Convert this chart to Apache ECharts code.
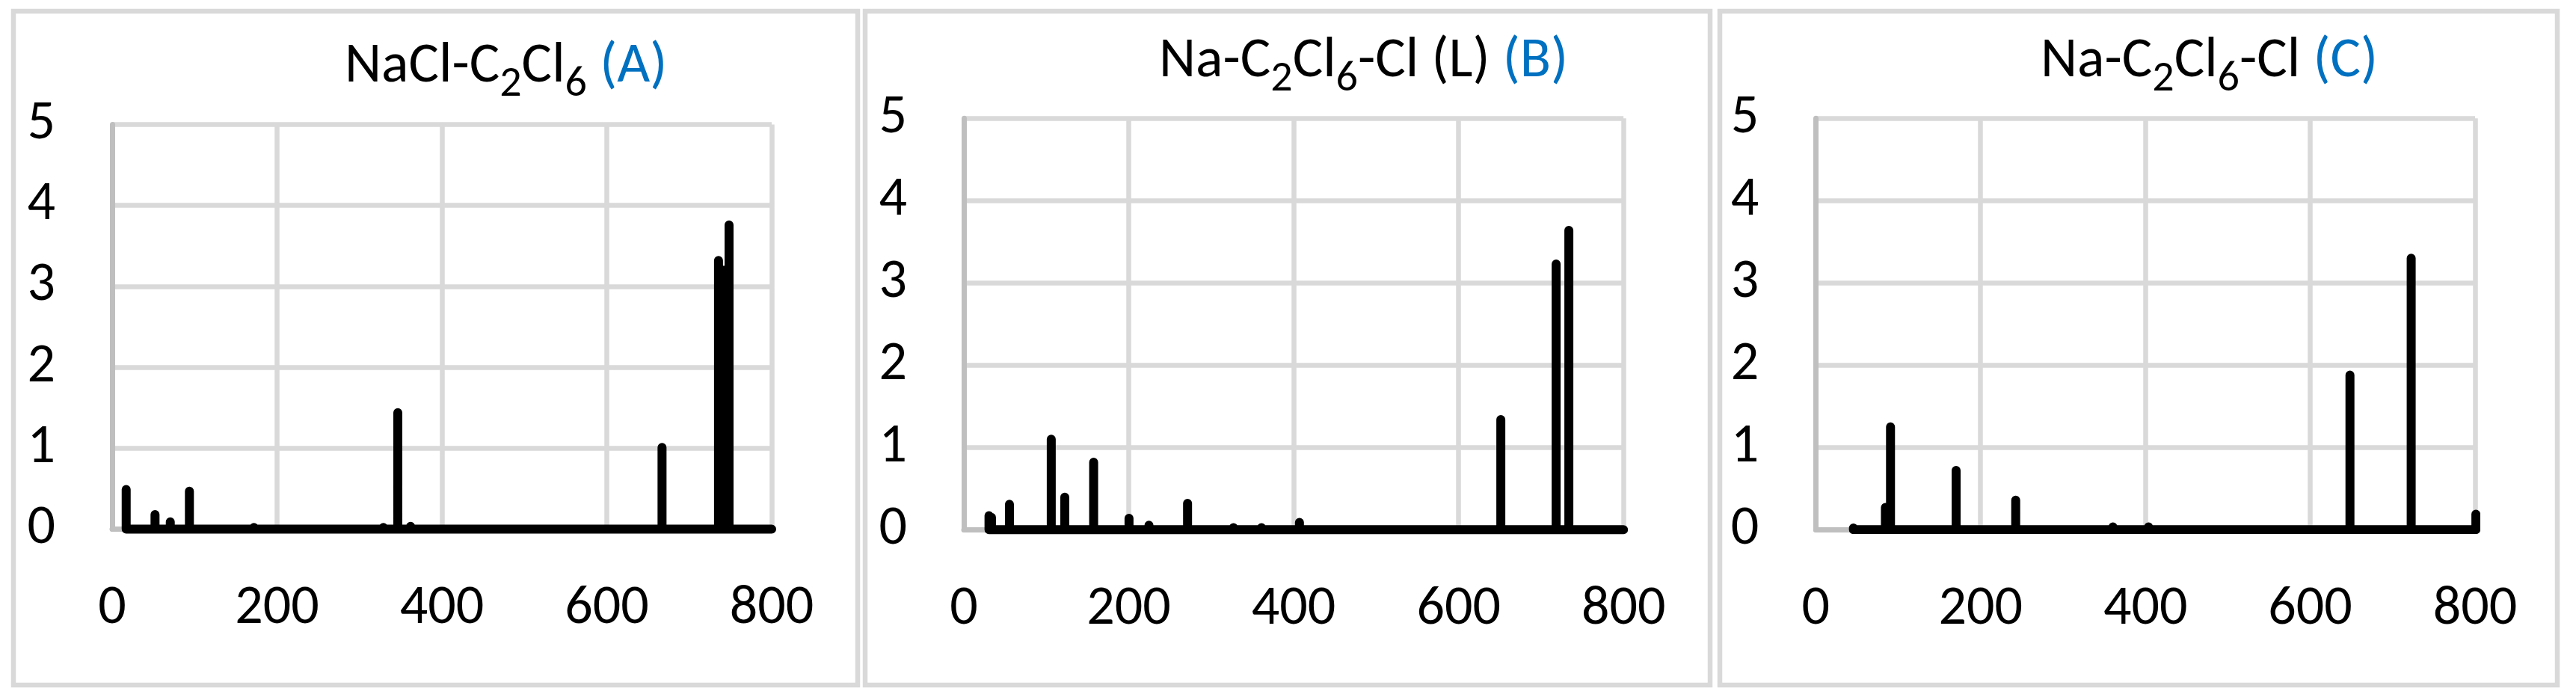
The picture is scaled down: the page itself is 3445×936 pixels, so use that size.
<!DOCTYPE html>
<html>
<head>
<meta charset="utf-8">
<title>Raman sticks</title>
<script src="https://cdn.jsdelivr.net/npm/echarts@6/dist/echarts.min.js"></script>
<style>
  html, body { margin: 0; padding: 0; background: #fff; }
  #chart { width: 3445px; height: 936px; }
</style>
</head>
<body>
<div id="chart"></div>
<script>
"use strict";

// peak positions (x) and heights
const freqA = [17, 52, 70.5, 93.7, 172, 231, 275, 329, 346.5, 362, 408, 667, 735.5, 742, 748.3, 800];
const intA  = [0.49, 0.18, 0.09, 0.47, 0.02, 0.015, 0.015, 0.02, 1.44, 0.035, 0.015, 1.01, 3.32, 3.2, 3.76, 0];

const freqB = [30.5, 33.5, 55.3, 106, 122.4, 157.4, 165.6, 200.3, 224.5, 271.3, 327, 361, 407, 651.2, 718.3, 733.7, 800];
const intB  = [0.17, 0.15, 0.31, 1.10, 0.395, 0.82, 0.01, 0.14, 0.055, 0.32, 0.025, 0.025, 0.09, 1.34, 3.23, 3.64, 0];

const freqC = [45.7, 84.5, 90.7, 170.3, 181.8, 227, 242.6, 322.7, 360.6, 403.8, 648.2, 722.5, 801];
const intC  = [0.02, 0.27, 1.25, 0.72, 0.015, 0.015, 0.36, 0.015, 0.035, 0.035, 1.88, 3.30, 0.19];

const xMin = 0, xMax = 800, xStep = 200;
const yMin = 0, yMax = 5, yStep = 1;

const FONT = "Carlito, Lato, 'Open Sans', sans-serif";
const BLUE = "#0070C0";

// each stick: up from the baseline and back down
function sticks(freq, inten) {
  const pts = [];
  freq.forEach((f, i) => {
    pts.push([f, 0], [f, inten[i]], [f, 0]);
  });
  return pts;
}

const panels = [
  { name: "NaCl-C", rest: "Cl", tail: "", tag: "(A)", freq: freqA, inten: intA, clip: false,
    box: [18, 15, 1129, 901], grid: [150, 166.5, 882, 541], title: [456, 30] },
  { name: "Na-C", rest: "Cl", tail: "-Cl (L)", tag: "(B)", freq: freqB, inten: intB, clip: false,
    box: [1157, 15, 1130, 901], grid: [1289, 158.3, 882.2, 550], title: [1545, 23] },
  { name: "Na-C", rest: "Cl", tail: "-Cl", tag: "(C)", freq: freqC, inten: intC, clip: true,
    box: [2300, 15, 1120, 901], grid: [2428.3, 158.3, 881.7, 550], title: [2724, 23] },
];

const chart = echarts.init(document.getElementById("chart"));

const txt = { fontFamily: FONT, fontWeight: "normal", color: "#000" };

const option = {
  animation: false,
  backgroundColor: "#fff",
  textStyle: { fontFamily: FONT },
  graphic: panels.map((p) => ({
    type: "rect", silent: true, z: -10,
    shape: { x: p.box[0], y: p.box[1], width: p.box[2], height: p.box[3] },
    style: { fill: "none", stroke: "#d9d9d9", lineWidth: 6.5 },
  })),
  title: panels.map((p) => ({
    left: p.title[0], top: p.title[1],
    text: `{n|${p.name}}{s|2}{n|${p.rest}}{s|6}{n|${p.tail} }{b|${p.tag}}`,
    textStyle: {
      fontWeight: "normal",
      rich: {
        n: { ...txt, fontSize: 76, lineHeight: 110 },
        s: { ...txt, fontSize: 58, lineHeight: 60, padding: [46, 0, 0, 0] },
        b: { ...txt, fontSize: 76, color: BLUE, lineHeight: 110 },
      },
    },
  })),
  grid: panels.map((p) => ({
    left: p.grid[0], top: p.grid[1], width: p.grid[2], height: p.grid[3],
    outerBoundsMode: "none",
  })),
  xAxis: panels.map((p, i) => ({
    type: "value", gridIndex: i,
    min: xMin, max: xMax, interval: xStep,
    axisLine: { show: true, onZero: false, lineStyle: { color: "#bfbfbf", width: 7 } },
    axisTick: { show: false },
    axisLabel: { ...txt, fontSize: 74, margin: 70 },
    splitLine: { show: true, lineStyle: { color: "#d9d9d9", width: 6.5 } },
  })),
  yAxis: panels.map((p, i) => ({
    type: "value", gridIndex: i,
    min: yMin, max: yMax, interval: yStep,
    axisLine: { show: true, lineStyle: { color: "#bfbfbf", width: 7 } },
    axisTick: { show: false },
    axisLabel: { ...txt, fontSize: 74, margin: 76 },
    splitLine: { show: true, lineStyle: { color: "#d9d9d9", width: 6.5 } },
  })),
  series: panels.map((p, i) => ({
    type: "line", xAxisIndex: i, yAxisIndex: i,
    data: sticks(p.freq, p.inten),
    showSymbol: false, symbol: "none",
    clip: p.clip,
    lineStyle: { color: "#000", width: 12, cap: "round", join: "round" },
    z: 5,
  })),
};

chart.setOption(option);
</script>
</body>
</html>
